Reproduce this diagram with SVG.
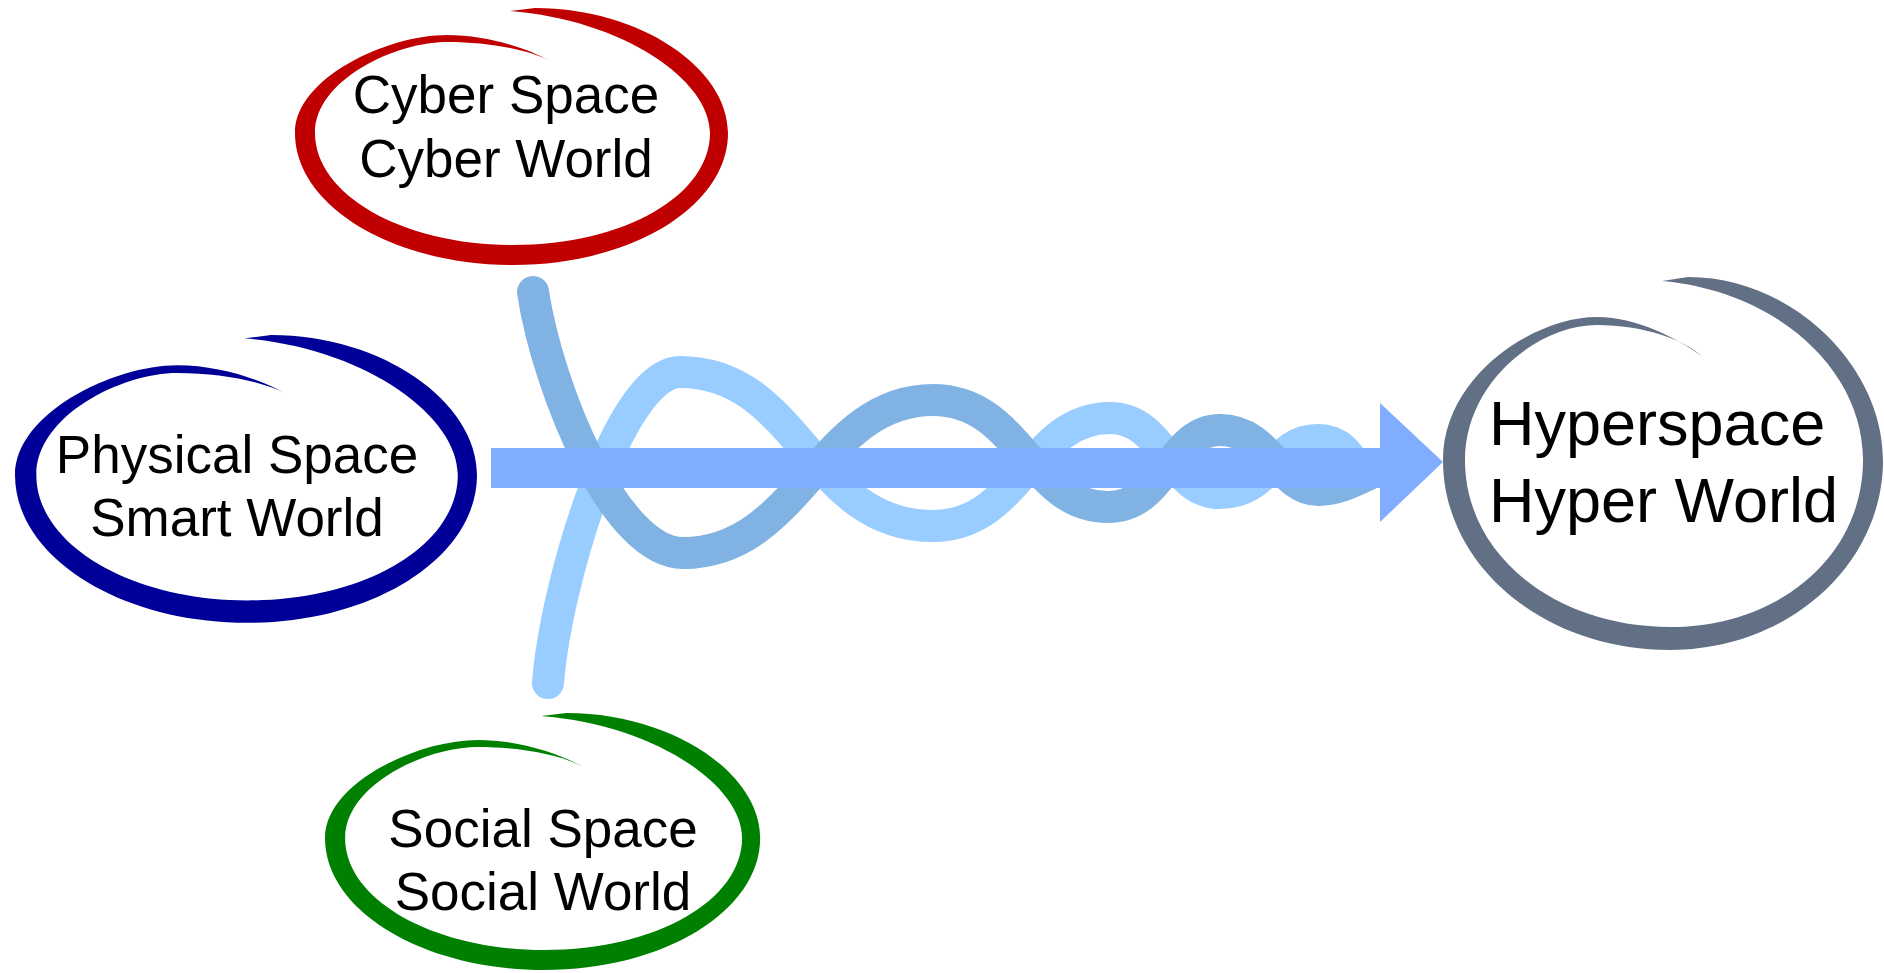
<svg xmlns="http://www.w3.org/2000/svg" width="1884" height="973" viewBox="0 0 1884 973">
  <style>
    .lbl { font-family: "Liberation Sans", Arial, sans-serif; font-size: 53px; fill: #000; text-anchor: middle; }
    .big { font-size: 63px; text-anchor: start; }
    .strand { fill: none; stroke-width: 32; stroke-linecap: round; stroke-linejoin: round; }
  </style>
  <defs>
    <path id="swoosh" d="M257,54 C232,40 192,27 152,27 C92,27 0,70 0,125 C0,198 98,257 218,257 C337,257 433,198 433,125 C433,60 345,0 240,0 L215,3 C328,12 415,72 415,125 C415,187 330,237 218,237 C108,237 20,187 20,125 C20,72 100,34 152,34 C195,34 235,42 257,54 Z"/>
  </defs>
  <rect width="1884" height="973" fill="#ffffff"/>

  <g id="connectors">
    <path class="strand" stroke="#99CCFF" d="M548,683 C556,580 620,372 680,372 C800,372 810,526 933,526 C1020,526 1030,418 1110,418 C1165,418 1170,493 1220,493 C1270,493 1275,440 1317,440 C1340,440 1350,455 1358,470"/>
    <path class="strand" stroke="#80B3E3" d="M533,292 C548,390 615,553 683,553 C800,553 820,400 933,400 C1020,400 1030,507 1108,507 C1165,507 1170,430 1220,430 C1270,430 1280,490 1318,490 C1340,490 1360,478 1378,470"/>
    <path fill="#80ADFF" d="M491,448 L1380,448 L1380,403 L1443,462 L1380,522 L1380,488 L491,488 Z"/>
  </g>

  <g id="cyber">
    <use href="#swoosh" transform="translate(295,8)" fill="#C00000"/>
    <text class="lbl" x="506" y="113">Cyber Space</text>
    <text class="lbl" x="506" y="177">Cyber World</text>
  </g>

  <g id="physical">
    <use href="#swoosh" transform="translate(15,335) scale(1.067,1.12)" fill="#000099"/>
    <text class="lbl" x="237" y="473">Physical Space</text>
    <text class="lbl" x="237" y="536">Smart World</text>
  </g>

  <g id="social">
    <use href="#swoosh" transform="translate(325,713) scale(1.005,1)" fill="#008000"/>
    <text class="lbl" x="543" y="847">Social Space</text>
    <text class="lbl" x="543" y="910">Social World</text>
  </g>

  <g id="hyper">
    <path transform="translate(1443,277)" fill="#627085" d="M260,80 C235,62 195,40 154,40 C90,40 0,100 0,183 C0,288 100,373 227,373 C345,373 440,288 440,183 C440,90 350,0 245,0 L219,4 C333,14 420,92 420,183 C420,280 335,350 227,350 C112,350 22,278 22,183 C22,105 95,48 154,48 C200,48 240,62 260,80 Z"/>
    <text class="lbl big" x="1489" y="445">Hyperspace</text>
    <text class="lbl big" x="1489" y="522">Hyper World</text>
  </g>
</svg>
